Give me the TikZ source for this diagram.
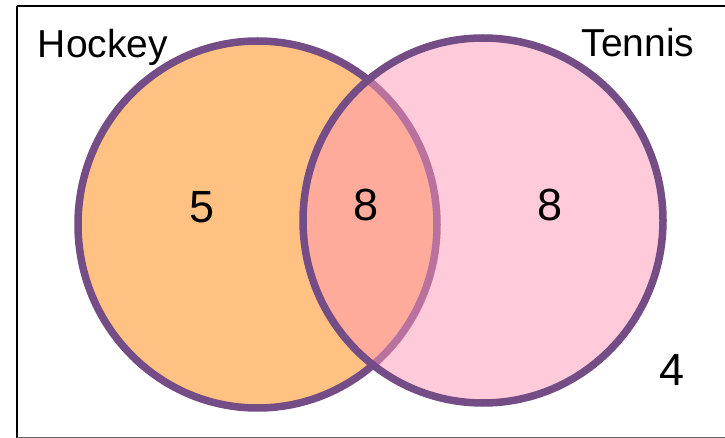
\documentclass[tikz,border=0pt]{standalone}
\usepackage{fontspec}
\setmainfont{Liberation Sans}
\begin{document}
\begin{tikzpicture}[x=1pt,y=-1pt,
  setfill/.style={draw=setline, line width=7.5pt},
  setlabel/.style={font=\fontsize{39}{39}\selectfont, anchor=base, inner sep=0pt},
  countlabel/.style={font=\fontsize{45}{45}\selectfont, anchor=base, inner sep=0pt}]
\definecolor{setline}{RGB}{116,76,134}
\definecolor{hockeyfill}{RGB}{255,194,130}
\definecolor{tennisfill}{RGB}{255,150,180}
\useasboundingbox (0,0) rectangle (725,438);
\fill[white] (0,0) rectangle (725,438);
% universe frame (runs past the right edge)
\draw[line width=2pt] (16.5,6) -- (740,6);
\draw[line width=2pt] (16.5,6) -- (16.5,437.5);
\draw[line width=2pt, black!60] (16.5,437.5) -- (740,437.5);
% the two sets
\draw[setfill, fill=hockeyfill] (257.5,224.5) ellipse [x radius=179.5pt, y radius=183.5pt];
\draw[setfill, fill=tennisfill, fill opacity=0.5] (483,220.5) ellipse [x radius=180pt, y radius=182.5pt];
% set names
\node[setlabel] (hockey) at (103,58) {Hockey};
\node[setlabel] (tennis) at (638,57) {Tennis};
% region counts
\node[countlabel] (onlyH) at (202,223) {5};
\node[countlabel] (both) at (366,221) {8};
\node[countlabel] (onlyT) at (550,221) {8};
\node[countlabel] (neither) at (672,385) {4};
\end{tikzpicture}
\end{document}
